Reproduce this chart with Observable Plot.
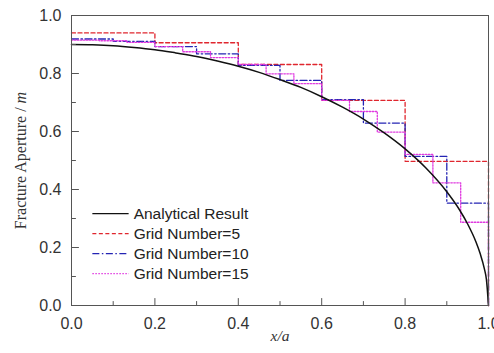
<!DOCTYPE html>
<html><head><meta charset="utf-8">
<script src="https://cdn.jsdelivr.net/npm/d3@7"></script>
<script src="https://cdn.jsdelivr.net/npm/@observablehq/plot@0.6"></script>
<style>body{margin:0;background:#fff}</style>
</head><body><div id="chart"></div>
<script>
// Analytical curve
const analyticalX = [0, 0.05, 0.1, 0.15, 0.2, 0.25, 0.3, 0.35, 0.4, 0.45, 0.5, 0.55, 0.6, 0.65, 0.7, 0.75, 0.8, 0.85, 0.9, 0.93, 0.95, 0.97, 0.98, 0.99, 0.995, 1.0];
const analyticalY = [0.900, 0.899, 0.896, 0.890, 0.882, 0.871, 0.859, 0.843, 0.825, 0.804, 0.779, 0.752, 0.720, 0.684, 0.643, 0.595, 0.540, 0.474, 0.392, 0.331, 0.281, 0.219, 0.179, 0.127, 0.090, 0.0];
// Step results (value of each grid cell)
const grid5 = [0.940, 0.906, 0.831, 0.707, 0.497];
const grid10 = [0.919, 0.911, 0.893, 0.868, 0.828, 0.776, 0.710, 0.629, 0.514, 0.353];
const grid15 = [0.915, 0.913, 0.907, 0.893, 0.875, 0.855, 0.831, 0.799, 0.765, 0.707, 0.669, 0.598, 0.521, 0.423, 0.287];
const xTicks = [0, 0.2, 0.4, 0.6, 0.8, 1.0];
const yTicks = [0, 0.2, 0.4, 0.6, 0.8, 1.0];
const xMinor = [0.1, 0.3, 0.5, 0.7, 0.9];
const yMinor = [0.1, 0.3, 0.5, 0.7, 0.9];
const seriesNames = ["Analytical Result", "Grid Number=5", "Grid Number=10", "Grid Number=15"];
const seriesColors = ["#111111", "#e0262e", "#2424b4", "#e03ae0"];
const seriesDash = [null, "4,2.5", "7,2.5,1.5,2.5", "1.5,1.5"];

const analytical = analyticalX.map((x, i) => ({x, y: analyticalY[i]}));
function steps(vals) {
  const n = vals.length;
  const pts = vals.map((v, i) => ({x: i / n, y: v}));
  pts.push({x: 1, y: vals[n - 1]}, {x: 1, y: 0});
  return pts;
}
const tickShape = {draw(c, l) { c.moveTo(0, 0); c.lineTo(0, -l); }};
const axisColor = "#555";
const sans = "'Liberation Sans', Arial, sans-serif";
const serif = "'Liberation Serif', 'Times New Roman', serif";

const stepMarks = [grid5, grid10, grid15].map((g, k) =>
  Plot.line(steps(g), {x: "x", y: "y", curve: "step-after", stroke: seriesColors[k + 1], strokeWidth: 1.3, strokeDasharray: seriesDash[k + 1]}));

// legend rows (placed inside the plot, lower left)
const legendY = i => 0.317 - i * 0.069;
const legendMarks = seriesNames.flatMap((name, i) => [
  Plot.link([name], {x1: 0.05, x2: 0.137, y1: legendY(i), y2: legendY(i), stroke: seriesColors[i], strokeDasharray: seriesDash[i], strokeWidth: 1.3}),
  Plot.text([name], {x: 0.149, y: legendY(i), textAnchor: "start", fontSize: 15.5, fill: "#222"})
]);

const chart = Plot.plot({
  width: 494, height: 353,
  marginLeft: 71, marginRight: 6, marginTop: 15, marginBottom: 48,
  style: {background: "#fff", fontFamily: sans, color: "#333"},
  x: {domain: [0, 1]},
  y: {domain: [0, 1]},
  marks: [
    ...stepMarks,
    Plot.line(analytical, {x: "x", y: "y", stroke: seriesColors[0], strokeWidth: 1.5, curve: "monotone-x"}),
    Plot.frame({stroke: axisColor}),
    Plot.vector(xTicks, {x: d => d, frameAnchor: "bottom", length: 7, anchor: "start", shape: tickShape, stroke: axisColor, strokeWidth: 1}),
    Plot.vector(xMinor, {x: d => d, frameAnchor: "bottom", length: 4, anchor: "start", shape: tickShape, stroke: axisColor, strokeWidth: 1}),
    Plot.vector(yTicks, {y: d => d, frameAnchor: "left", length: 7, rotate: 90, anchor: "start", shape: tickShape, stroke: axisColor, strokeWidth: 1}),
    Plot.vector(yMinor, {y: d => d, frameAnchor: "left", length: 4, rotate: 90, anchor: "start", shape: tickShape, stroke: axisColor, strokeWidth: 1}),
    Plot.axisX({ticks: xTicks, tickFormat: d3.format(".1f"), tickSize: 0, tickPadding: 12, fontSize: 16, label: null, fill: "#333"}),
    Plot.axisY({ticks: yTicks, tickFormat: d3.format(".1f"), tickSize: 0, tickPadding: 10, fontSize: 16, label: null, fill: "#333"}),
    Plot.text(["x/a"], {frameAnchor: "bottom", dy: 35, fontSize: 15.5, fontStyle: "italic", fontFamily: serif, fill: "#333"}),
    Plot.text(["Fracture Aperture / m"], {frameAnchor: "left", textAnchor: "middle", dx: -51, rotate: -90, fontSize: 16, fontFamily: serif, fill: "#333"}),
    ...legendMarks
  ]
});
document.getElementById("chart").appendChild(chart);
// italic "m" in the y label
chart.querySelectorAll("text").forEach(t => {
  if (t.textContent === "Fracture Aperture / m") {
    t.textContent = "Fracture Aperture / ";
    const ts = document.createElementNS("http://www.w3.org/2000/svg", "tspan");
    ts.setAttribute("font-style", "italic");
    ts.textContent = "m";
    t.appendChild(ts);
  }
});
</script>
</body></html>
